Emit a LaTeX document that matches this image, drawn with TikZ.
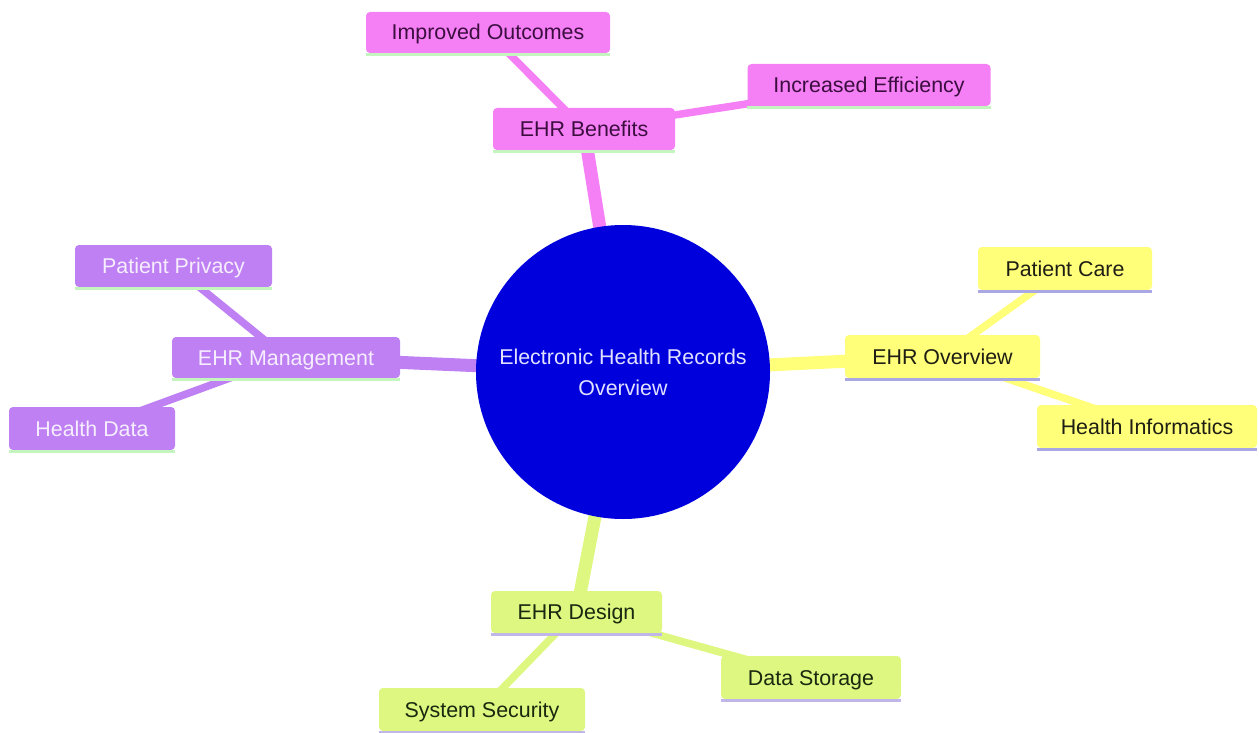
\documentclass[tikz,border=0pt]{standalone}
\usepackage{fontspec}
\setmainfont{Liberation Sans}
\usetikzlibrary{backgrounds}
\definecolor{cpink}{RGB}{245,128,245}
\definecolor{cpurple}{RGB}{190,128,242}
\definecolor{cyellow}{RGB}{255,255,122}
\definecolor{cgreen}{RGB}{221,247,128}
\definecolor{cblue}{RGB}{0,0,221}
\definecolor{tpink}{RGB}{60,14,64}
\definecolor{tpurple}{RGB}{246,238,255}
\definecolor{tyellow}{RGB}{30,30,20}
\definecolor{tgreen}{RGB}{25,40,15}
\definecolor{tcenter}{RGB}{225,225,255}
\definecolor{lgreenline}{RGB}{196,245,190}
\definecolor{lavline}{RGB}{170,168,228}
\definecolor{lavline2}{RGB}{192,182,232}
\tikzset{
  x=1pt, y=-1pt,
  txt/.style={font=\fontsize{21.4pt}{31pt}\selectfont, inner sep=0pt, rounded corners=4pt,
    text height=16pt, text depth=1pt},
  pinkbox/.style={txt, fill=cpink, text=tpink},
  purplebox/.style={txt, fill=cpurple, text=tpurple},
  yellowbox/.style={txt, fill=cyellow, text=tyellow},
  greenbox/.style={txt, fill=cgreen, text=tgreen},
  mainedge/.style={line width=13pt},
  subedge/.style={line width=7.5pt},
  underline/.style={line width=3pt}
}
\begin{document}
\begin{tikzpicture}
\useasboundingbox (0,0) rectangle (1259,733);
% center
\node[circle, fill=cblue, minimum size=294pt, inner sep=0pt, text=tcenter, align=center,
  font=\fontsize{21.4pt}{31pt}\selectfont] (ctr) at (623,372) {Electronic Health Records\\Overview};
% pink section
\node[pinkbox, minimum width=182pt, minimum height=42pt] (ben) at (584,129) {EHR Benefits};
\node[pinkbox, minimum width=244pt, minimum height=41pt] (io) at (488,32.5) {Improved Outcomes};
\node[pinkbox, minimum width=243pt, minimum height=42pt] (ie) at (869,85) {Increased Efficiency};
% yellow section
\node[yellowbox, minimum width=195pt, minimum height=43pt] (ov) at (942.5,356.5) {EHR Overview};
\node[yellowbox, minimum width=174pt, minimum height=43pt] (pc) at (1065,268.5) {Patient Care};
\node[yellowbox, minimum width=220pt, minimum height=43pt] (hi) at (1147,426.5) {Health Informatics};
% purple section
\node[purplebox, minimum width=228pt, minimum height=41pt] (mg) at (286,357.5) {EHR Management};
\node[purplebox, minimum width=197pt, minimum height=42pt] (pp) at (173.5,266) {Patient Privacy};
\node[purplebox, minimum width=166pt, minimum height=43pt] (hd) at (92,428.5) {Health Data};
% green section
\node[greenbox, minimum width=171pt, minimum height=42pt] (des) at (576.5,612) {EHR Design};
\node[greenbox, minimum width=180pt, minimum height=43pt] (ds) at (811,677.5) {Data Storage};
\node[greenbox, minimum width=206pt, minimum height=43pt] (ss) at (482,709.5) {System Security};
% underlines
\foreach \n in {ben,io,ie}{\draw[underline, lgreenline] ([yshift=-1.5pt]\n.south west) -- ([yshift=-1.5pt]\n.south east);}
\foreach \n in {mg,pp,hd}{\draw[underline, lgreenline] ([yshift=-1.5pt]\n.south west) -- ([yshift=-1.5pt]\n.south east);}
\foreach \n in {ov,pc,hi}{\draw[underline, lavline] ([yshift=-1.5pt]\n.south west) -- ([yshift=-1.5pt]\n.south east);}
\foreach \n in {des,ds,ss}{\draw[underline, lavline2] ([yshift=-1.5pt]\n.south west) -- ([yshift=-1.5pt]\n.south east);}
% edges
\begin{pgfonlayer}{background}
\fill[white] (0,0) rectangle (1259,733);
\draw[mainedge, cpink] (ctr.center) -- (ben.center);
\draw[subedge, cpink] (ben.center) -- (io.center);
\draw[subedge, cpink] (ben.center) -- (ie.center);
\draw[mainedge, cyellow] (ctr.center) -- (ov.center);
\draw[subedge, cyellow] (ov.center) -- (pc.center);
\draw[subedge, cyellow] (ov.center) -- (hi.center);
\draw[mainedge, cpurple] (ctr.center) -- (mg.center);
\draw[subedge, cpurple] (mg.center) -- (pp.center);
\draw[subedge, cpurple] (mg.center) -- (hd.center);
\draw[mainedge, cgreen] (ctr.center) -- (des.center);
\draw[subedge, cgreen] (des.center) -- (ds.center);
\draw[subedge, cgreen] (des.center) -- (ss.center);
\end{pgfonlayer}
\end{tikzpicture}
\end{document}
